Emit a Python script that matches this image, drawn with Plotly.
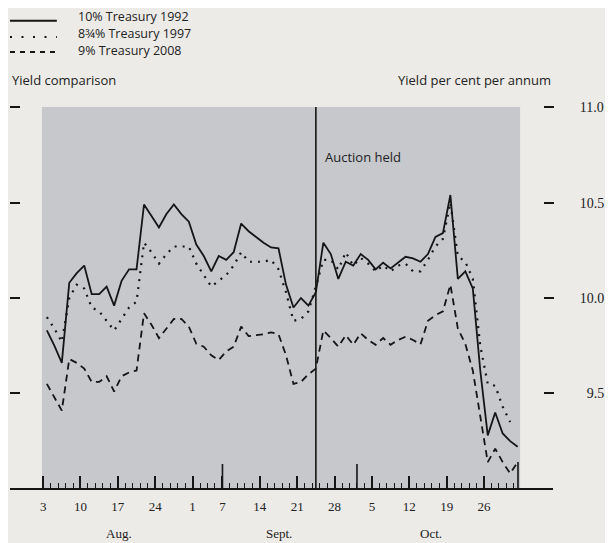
import plotly.graph_objects as go

# ---- data (one value per business day, 3 Aug -> 30 Oct) ----
week_labels = ["3", "10", "17", "24", "1", "7", "14", "21", "28", "5", "12", "19", "26"]
week_start_idx = [0, 5, 10, 15, 20, 24, 29, 34, 39, 44, 49, 54, 59]
month_labels = ["Aug.", "Sept.", "Oct."]
month_centre_idx = [9.7, 31.1, 51.4]
auction_idx = 36
y_ticks = [9.5, 10.0, 10.5, 11.0]
y_tick_text = ["\u20079.5", "10.0", "10.5", "11.0"]

tsy1992 = [9.83, 9.75, 9.66, 10.08, 10.13, 10.17, 10.02, 10.02, 10.06, 9.96,
           10.09, 10.15, 10.15, 10.49, 10.43, 10.37, 10.44, 10.49, 10.44, 10.40,
           10.28, 10.22, 10.14, 10.22, 10.20, 10.24, 10.39, 10.35, 10.32, 10.29,
           10.265, 10.26, 10.07, 9.95, 10.00, 9.96, 10.03, 10.29, 10.23, 10.10,
           10.19, 10.17, 10.23, 10.20, 10.15, 10.185, 10.155, 10.185, 10.216, 10.208,
           10.19, 10.23, 10.32, 10.34, 10.54, 10.10, 10.14, 10.05, 9.62, 9.28,
           9.40, 9.29, 9.25, 9.22]

tsy1997 = [9.90, 9.84, 9.77, 10.00, 10.07, 10.05, 9.95, 9.93, 9.88, 9.83,
           9.89, 9.95, 9.98, 10.29, 10.24, 10.18, 10.23, 10.27, 10.27, 10.27,
           10.18, 10.12, 10.06, 10.09, 10.12, 10.17, 10.24, 10.19, 10.19, 10.19,
           10.20, 10.15, 10.03, 9.88, 9.89, 9.93, 10.06, 10.20, 10.20, 10.15,
           10.24, 10.17, 10.21, 10.18, 10.14, 10.17, 10.14, 10.17, 10.18, 10.14,
           10.14, 10.20, 10.27, 10.31, 10.50, 10.22, 10.19, 10.10, 9.75, 9.55,
           9.54, 9.43, 9.35]

tsy2008 = [9.55, 9.48, 9.41, 9.68, 9.66, 9.63, 9.56, 9.56, 9.59, 9.51,
           9.59, 9.61, 9.62, 9.92, 9.86, 9.79, 9.84, 9.89, 9.89, 9.85,
           9.76, 9.745, 9.70, 9.675, 9.72, 9.745, 9.85, 9.80, 9.805, 9.81,
           9.82, 9.81, 9.70, 9.55, 9.56, 9.60, 9.63, 9.83, 9.79, 9.745,
           9.805, 9.755, 9.815, 9.78, 9.755, 9.79, 9.755, 9.78, 9.797, 9.78,
           9.757, 9.88, 9.91, 9.93, 10.07, 9.84, 9.76, 9.62, 9.38, 9.14,
           9.21, 9.14, 9.08, 9.14]

series_names = ["10% Treasury 1992", "8¾% Treasury 1997", "9% Treasury 2008"]

INK = "#151515"
TXT = "#222222"
WORD_FONT = "Open Sans"
NUM_FONT = "Liberation Serif"

# The page has an 8px body margin, so the figure is 8px smaller than the window.
FIG_W, FIG_H = 605, 535
M_L, M_R, M_T, M_B = 0, 60, 99, 54
PAPER_W = FIG_W - M_L - M_R          # 545
H_PLOT = FIG_H - M_T - M_B           # 382
BODY = 8


def px(page_x):
    return (page_x - BODY - M_L) / PAPER_W


def py(page_y):
    return (FIG_H - M_B + BODY - page_y) / H_PLOT


fig = go.Figure()
styles = [dict(width=1.8, dash="solid", axis="y2", key="solid"),
          dict(width=2.2, dash="2px,6px", axis="y", key="2px,9.5px"),
          dict(width=1.8, dash="7px,5px", axis="y", key="5px,5px")]
for name, vals, st in zip(series_names, [tsy1992, tsy1997, tsy2008], styles):
    fig.add_trace(go.Scatter(
        x=list(range(len(vals))), y=vals, mode="lines", name=name,
        line=dict(color=INK, width=st["width"], dash=st["dash"]),
        yaxis=st["axis"], hoverinfo="skip", showlegend=False))

shapes = [
    # baseline extending beyond plot
    dict(type="line", xref="paper", yref="paper", x0=0, x1=1, y0=0, y1=0,
         line=dict(color=INK, width=2.2)),
    # auction marker
    dict(type="line", xref="x", yref="paper", x0=auction_idx, x1=auction_idx, y0=0, y1=1,
         line=dict(color=INK, width=1.6)),
]
for xv, h in [(23.5, 25), (41.5, 25), (63.05, 27)]:
    shapes.append(dict(type="line", xref="x", yref="paper", x0=xv, x1=xv, y0=0, y1=h / H_PLOT,
                       line=dict(color=INK, width=1.6)))

annotations = [
    dict(text="Auction held", xref="x", yref="y", x=auction_idx, y=10.74, xshift=7,
         xanchor="left", yanchor="middle", showarrow=False,
         font=dict(family=WORD_FONT, size=13, color=TXT)),
    dict(text="Yield comparison", xref="paper", yref="paper", x=px(8), y=py(80),
         xanchor="left", yanchor="middle", showarrow=False,
         font=dict(family=WORD_FONT, size=13, color=TXT)),
    dict(text="Yield per cent per annum", xref="paper", yref="paper", x=px(553), y=py(80),
         xanchor="right", yanchor="middle", showarrow=False,
         font=dict(family=WORD_FONT, size=13, color=TXT)),
]
for lab, cx in zip(month_labels, month_centre_idx):
    annotations.append(dict(text=lab, xref="x", yref="paper", x=cx, y=py(533),
                            xanchor="center", yanchor="middle", showarrow=False,
                            font=dict(family=NUM_FONT, size=13, color=TXT)))

# key (legend) at the top left
key_line_y = [20.7, 36.9, 52.0]
key_text_y = [16.5, 33.5, 50.5]
for name, st, ly, ty in zip(series_names, styles, key_line_y, key_text_y):
    shapes.append(dict(type="line", xref="paper", yref="paper",
                       x0=px(8), x1=px(55), y0=py(ly), y1=py(ly),
                       line=dict(color=INK, width=2, dash=st["key"])))
    annotations.append(dict(text=name, xref="paper", yref="paper", x=px(74), y=py(ty),
                            xanchor="left", yanchor="middle", showarrow=False,
                            font=dict(family=WORD_FONT, size=12.5, color=TXT)))

y_range = [8.999, 11.001]

fig.update_layout(
    width=FIG_W, height=FIG_H, autosize=False,
    margin=dict(l=M_L, r=M_R, t=M_T, b=M_B, pad=0),
    paper_bgcolor="#ecebe8", plot_bgcolor="#c7c8cc",
    showlegend=False,
    xaxis=dict(domain=[px(40), px(520)], range=[-0.667, 63.333],
               tickmode="array", tickvals=[w - 0.5 for w in week_start_idx], ticktext=week_labels,
               ticks="inside", ticklen=13, tickwidth=1.6, tickcolor=INK,
               ticklabelstandoff=8,
               minor=dict(tickmode="linear", tick0=-0.5, dtick=1, ticks="inside",
                          ticklen=6, tickwidth=1.4, tickcolor=INK, showgrid=False),
               showgrid=False, zeroline=False, showline=False,
               tickfont=dict(family=NUM_FONT, size=13, color=TXT), fixedrange=True),
    yaxis=dict(range=y_range, anchor="free", position=px(18), tickvals=y_ticks,
               ticks="outside", ticklen=10, tickwidth=2, tickcolor=INK,
               showticklabels=False, showgrid=False, zeroline=False, showline=False),
    yaxis2=dict(range=y_range, overlaying="y", side="right", anchor="free",
                position=px(543),
                tickvals=y_ticks, ticktext=y_tick_text,
                ticks="outside", ticklen=10, tickwidth=2, tickcolor=INK,
                ticklabelstandoff=23,
                showgrid=False, zeroline=False, showline=False,
                tickfont=dict(family=NUM_FONT, size=14, color=TXT)),
    shapes=shapes, annotations=annotations,
)

fig.write_html("out.html")
